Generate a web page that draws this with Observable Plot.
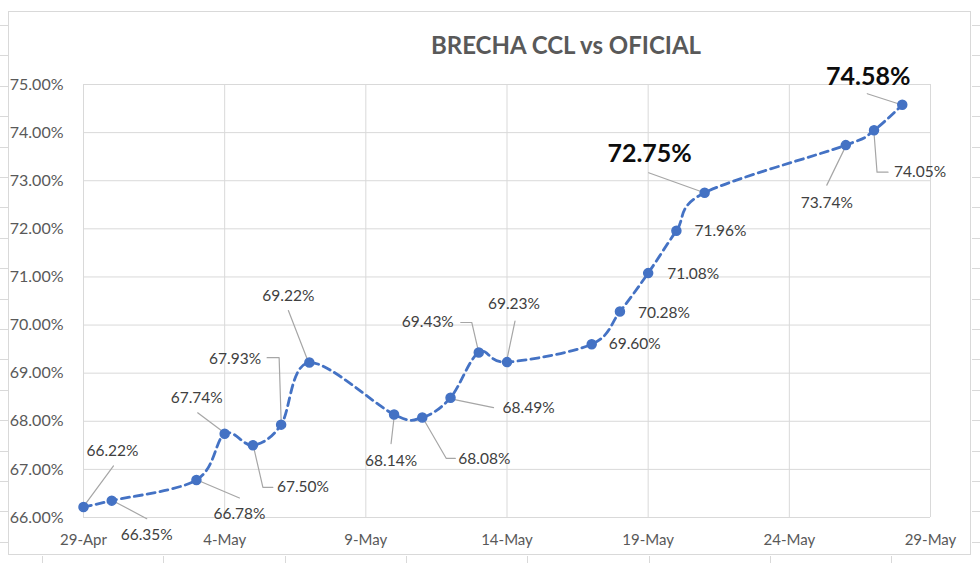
<!DOCTYPE html>
<html>
<head>
<meta charset="utf-8">
<script src="https://cdn.jsdelivr.net/npm/d3@7"></script>
<script src="https://cdn.jsdelivr.net/npm/@observablehq/plot@0.6"></script>
<style>
  html, body { margin: 0; padding: 0; background: #fff; }
  #wrap { position: relative; width: 980px; height: 563px; overflow: hidden; font-family: Lato, "Open Sans", sans-serif; }
  #title { position: absolute; left: 0; width: 1132px; top: 30px; text-align: center; font-size: 24px; font-weight: 700; color: #595959; line-height: 30px; }
  #frame { position: absolute; left: 8px; top: 11px; width: 963px; height: 544px; border: 1px solid #d9d9d9; box-sizing: border-box; }
  .cell { position: absolute; background: #d9d9d9; }
  #chart { position: absolute; left: 0; top: 0; }
</style>
</head>
<body>
<div id="wrap">
  <div id="frame"></div>
  <div id="chart"></div>
  <div id="title">BRECHA CCL vs OFICIAL</div>
</div>
<script>
// ---- data ----
const dates = ["2021-04-29","2021-04-30","2021-05-03","2021-05-04","2021-05-05","2021-05-06","2021-05-07",
  "2021-05-10","2021-05-11","2021-05-12","2021-05-13","2021-05-14",
  "2021-05-17","2021-05-18","2021-05-19","2021-05-20","2021-05-21",
  "2021-05-26","2021-05-27","2021-05-28"];
const values = [66.22,66.35,66.78,67.74,67.50,67.93,69.22,68.14,68.08,68.49,69.43,69.23,69.60,70.28,71.08,71.96,72.75,73.74,74.05,74.58];
const xTickDates = ["2021-04-29","2021-05-04","2021-05-09","2021-05-14","2021-05-19","2021-05-24","2021-05-29"];
const yTicks = [66,67,68,69,70,71,72,73,74,75];
const highlighted = [16, 19]; // indices of emphasised labels
const months = ["Jan","Feb","Mar","Apr","May","Jun","Jul","Aug","Sep","Oct","Nov","Dec"];

// ---- label layout (pixel offsets from each point) ----
const labelLayout = [
  {dx:29, dy:-56, a:"middle", leader:[[2,-3],[30,-41]]},
  {dx:35, dy:34, a:"middle", leader:[[3,1],[35,18]]},
  {dx:43, dy:34, a:"middle", leader:[[3,1],[43,18]]},
  {dx:-28, dy:-36, a:"middle", leader:[[-3,-3],[-27,-21]]},
  {dx:24, dy:42, a:"start", leader:[[1,3],[10,42],[20,42]]},
  {dx:-46, dy:-66, a:"middle", leader:[[0,-4],[-2,-67],[-14,-67]]},
  {dx:-21, dy:-67, a:"middle", leader:[[-2,-3],[-21,-52]]},
  {dx:-3, dy:46, a:"middle", leader:[[0,3],[-3,29]]},
  {dx:36, dy:42, a:"start", leader:[[2,3],[24,41],[33,41]]},
  {dx:52, dy:10, a:"start", leader:[[4,2],[43,10]]},
  {dx:-51, dy:-30, a:"middle", leader:[[-1,-4],[-7,-30],[-18,-30]]},
  {dx:7, dy:-58, a:"middle", leader:[[0,-3],[8,-41]]},
  {dx:17, dy:0, a:"start"},
  {dx:18, dy:1, a:"start"},
  {dx:19, dy:1, a:"start"},
  {dx:18, dy:0, a:"start"},
  {dx:-55, dy:-39, a:"middle", leader:[[-3,-1],[-56,-20]]},
  {dx:-19, dy:58, a:"middle", leader:[[-1,3],[-19,40]]},
  {dx:20, dy:42, a:"start", leader:[[0,3],[3,42],[14,42]]},
  {dx:-34, dy:-28, a:"middle", leader:[[-4,-1],[-35,-11]]}
];

const W = 980, H = 563, mL = 83, mR = 50, mT = 84, mB = 46;
const parse = s => new Date(s + "T00:00:00Z");
const data = dates.map((d, i) => ({date: parse(d), value: values[i], i}));
const xDomain = [parse(xTickDates[0]), parse(xTickDates[xTickDates.length - 1])];
const yDomain = [yTicks[0], yTicks[yTicks.length - 1]];

const xs = Plot.scale({x: {type: "utc", domain: xDomain, range: [mL, W - mR]}});
const ys = Plot.scale({y: {type: "linear", domain: yDomain, range: [H - mB, mT]}});
const at = (d, px, py) => ({x: xs.invert(xs.apply(d.date) + px), y: ys.invert(ys.apply(d.value) + py)});

const labels = data.map(d => {
  const L = labelLayout[d.i];
  const p = at(d, L.dx, L.dy);
  return {...p, text: d.value.toFixed(2) + "%", anchor: L.a, bold: highlighted.includes(d.i)};
});
const leaders = [];
data.forEach(d => {
  const L = labelLayout[d.i];
  if (L.leader) L.leader.forEach(([px, py]) => leaders.push({...at(d, px, py), id: d.i}));
});

const fmtDate = d => `${d.getUTCDate()}-${months[d.getUTCMonth()]}`;

const chart = Plot.plot({
  width: W, height: H,
  marginLeft: mL, marginRight: mR, marginTop: mT, marginBottom: mB,
  style: {fontFamily: 'Lato, "Open Sans", sans-serif', background: "transparent"},
  x: {type: "utc", domain: xDomain, label: null},
  y: {domain: yDomain, label: null},
  marks: [
    Plot.gridX(xTickDates.map(parse), {stroke: "#d9d9d9", strokeOpacity: 1, strokeWidth: 1}),
    Plot.gridY(yTicks, {stroke: "#d9d9d9", strokeOpacity: 1, strokeWidth: 1}),
    Plot.axisX(xTickDates.map(parse), {tickSize: 0, tickPadding: 17, tickFormat: fmtDate, fontSize: 15, fill: "#595959", label: null}),
    Plot.axisY(yTicks, {tickSize: 0, tickPadding: 20, tickFormat: d => d.toFixed(2) + "%", fontSize: 16, fill: "#595959", label: null}),
    Plot.line(leaders, {x: "x", y: "y", z: "id", stroke: "#a6a6a6", strokeWidth: 1.2}),
    Plot.line(data, {x: "date", y: "value", stroke: "#4472C4", strokeWidth: 2.8, strokeDasharray: "8,5", curve: "cardinal", tension: 0}),
    Plot.dot(data, {x: "date", y: "value", r: 4.5, fill: "#4472C4", stroke: "#4472C4"}),
    Plot.text(labels.filter(d => !d.bold && d.anchor === "middle"), {x: "x", y: "y", text: "text", textAnchor: "middle", fontSize: 15.5, fill: "#404040"}),
    Plot.text(labels.filter(d => !d.bold && d.anchor === "start"), {x: "x", y: "y", text: "text", textAnchor: "start", fontSize: 15.5, fill: "#404040"}),
    Plot.text(labels.filter(d => d.bold), {x: "x", y: "y", text: "text", textAnchor: "middle", fontSize: 25, fontWeight: "bold", fill: "#0d0d0d"})
  ]
});
document.getElementById("chart").appendChild(chart);

// spreadsheet cell edges peeking around the chart object
const wrap = document.getElementById("wrap");
const addCell = (l, t, w, h) => { const e = document.createElement("div"); e.className = "cell"; Object.assign(e.style, {left: l + "px", top: t + "px", width: w + "px", height: h + "px"}); wrap.appendChild(e); };
for (let k = 0; k < 18; k++) { const y = Math.round(25 + 30.4 * k); addCell(972, y, 8, 1); if (y > 11 && y < 555) addCell(0, y, 8, 1); }
for (let k = 0; k < 8; k++) addCell(Math.round(42 + 121.3 * k), 556, 1, 7);
</script>
</body>
</html>
